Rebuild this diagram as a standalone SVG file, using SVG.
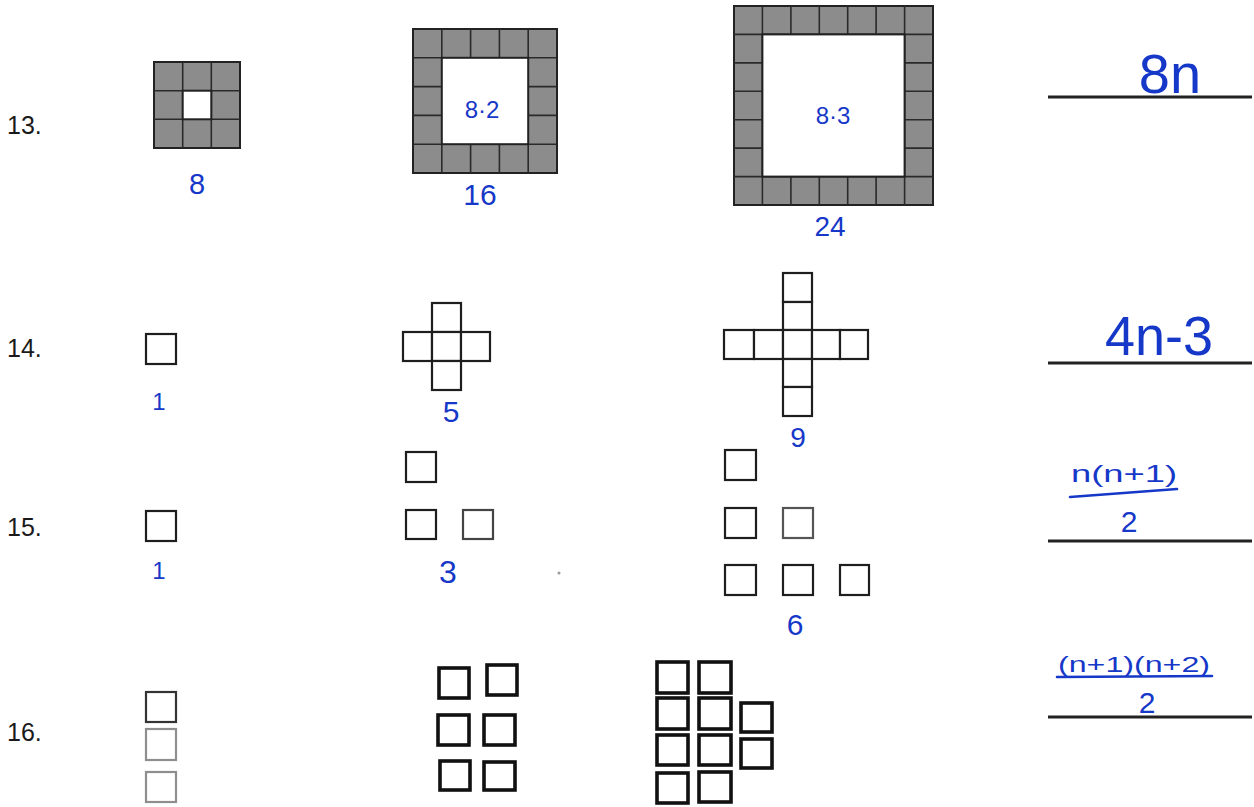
<svg xmlns="http://www.w3.org/2000/svg" width="1254" height="807" viewBox="0 0 1254 807">
<style>
.num{font-family:"Liberation Sans",Arial,sans-serif;font-size:25px;fill:#1a1a1a}
.hw{font-family:"Liberation Sans",Arial,sans-serif;fill:#1638c8;text-anchor:middle}
.ring{fill:#8c8c8c;stroke:#222;stroke-width:2}
.grid{fill:none;stroke:#2a2a2a;stroke-width:1.6}
.hole{fill:#fff;stroke:#222;stroke-width:2}
.sq{fill:#fff;stroke:#1e1e1e;stroke-width:2.2}
.sqb{fill:#fff;stroke:#111;stroke-width:3.6}
.ans{stroke:#222;stroke-width:3;fill:none}
.bar{stroke:#1638c8;stroke-width:2.6;fill:none;stroke-linecap:round}
</style>
<rect width="1254" height="807" fill="#fff"/>

<g id="labels">
<text class="num" x="7" y="134">13.</text>
<text class="num" x="7" y="357">14.</text>
<text class="num" x="7" y="536">15.</text>
<text class="num" x="7" y="741">16.</text>
</g>

<g id="p13-fig1">
<rect class="ring" x="154" y="62" width="86" height="86"/>
<path class="grid" d="M182.7 62V148M211.3 62V148M154 90.7H240M154 119.3H240"/>
<rect class="hole" x="182.7" y="90.7" width="28.6" height="28.6"/>
<text class="hw" x="197" y="194" font-size="29">8</text>
</g>

<g id="p13-fig2">
<rect class="ring" x="413" y="29" width="144" height="144"/>
<path class="grid" d="M441.8 29V173M470.6 29V173M499.4 29V173M528.2 29V173M413 57.8H557M413 86.6H557M413 115.4H557M413 144.2H557"/>
<rect class="hole" x="441.8" y="57.8" width="86.4" height="86.4"/>
<text class="hw" x="482" y="118" font-size="24">8·2</text>
<text class="hw" x="480" y="205" font-size="30">16</text>
</g>

<g id="p13-fig3">
<rect class="ring" x="734" y="6" width="199" height="199"/>
<path class="grid" d="M762.4 6V205M790.9 6V205M819.3 6V205M847.7 6V205M876.1 6V205M904.6 6V205M734 34.4H933M734 62.9H933M734 91.3H933M734 119.7H933M734 148.1H933M734 176.6H933"/>
<rect class="hole" x="762.4" y="34.4" width="142.2" height="142.2"/>
<text class="hw" x="833" y="124" font-size="24">8·3</text>
<text class="hw" x="830" y="236" font-size="28">24</text>
</g>

<g id="p14-fig1">
<rect class="sq" x="146" y="334" width="30" height="30"/>
<text class="hw" x="159" y="410" font-size="24">1</text>
</g>

<g id="p14-fig2">
<rect class="sq" x="432" y="303" width="29" height="29"/>
<rect class="sq" x="403" y="332" width="29" height="29"/>
<rect class="sq" x="432" y="332" width="29" height="29"/>
<rect class="sq" x="461" y="332" width="29" height="29"/>
<rect class="sq" x="432" y="361" width="29" height="29"/>
<text class="hw" x="451" y="422" font-size="30">5</text>
</g>

<g id="p14-fig3">
<rect class="sq" x="783" y="273" width="29" height="29"/>
<rect class="sq" x="783" y="302" width="29" height="28"/>
<rect class="sq" x="724" y="330" width="30" height="29"/>
<rect class="sq" x="754" y="330" width="29" height="29"/>
<rect class="sq" x="783" y="330" width="29" height="29"/>
<rect class="sq" x="812" y="330" width="28" height="29"/>
<rect class="sq" x="840" y="330" width="28" height="29"/>
<rect class="sq" x="783" y="359" width="29" height="28"/>
<rect class="sq" x="783" y="387" width="29" height="29"/>
<text class="hw" x="798" y="447" font-size="28">9</text>
</g>

<g id="p15-fig1">
<rect class="sq" x="146" y="511" width="30" height="30"/>
<text class="hw" x="159" y="579" font-size="24">1</text>
</g>

<g id="p15-fig2">
<rect class="sq" x="406" y="452" width="30" height="30"/>
<rect class="sq" x="406" y="510" width="30" height="29"/>
<rect class="sq" x="463" y="510" width="30" height="29" style="stroke:#444"/>
<text class="hw" x="448" y="583" font-size="32">3</text>
<circle cx="559" cy="573" r="1.5" fill="#999"/>
</g>

<g id="p15-fig3">
<rect class="sq" x="725" y="450" width="31" height="30"/>
<rect class="sq" x="725" y="508" width="31" height="30"/>
<rect class="sq" x="783" y="508" width="30" height="30" style="stroke:#555"/>
<rect class="sq" x="725" y="565" width="31" height="30"/>
<rect class="sq" x="783" y="565" width="30" height="30"/>
<rect class="sq" x="840" y="565" width="29" height="30"/>
<text class="hw" x="795" y="635" font-size="30">6</text>
</g>

<g id="p16-fig1">
<rect class="sq" x="146" y="692" width="30" height="30" style="stroke:#333"/>
<rect class="sq" x="146" y="729" width="30" height="31" style="stroke:#8e8e8e"/>
<rect class="sq" x="146" y="772" width="30" height="30" style="stroke:#8e8e8e"/>
</g>

<g id="p16-fig2">
<rect class="sqb" x="439" y="668" width="30" height="30"/>
<rect class="sqb" x="487" y="665" width="30" height="30"/>
<rect class="sqb" x="438" y="715" width="31" height="30"/>
<rect class="sqb" x="484" y="715" width="31" height="30"/>
<rect class="sqb" x="440" y="761" width="30" height="29"/>
<rect class="sqb" x="484" y="762" width="31" height="28"/>
</g>

<g id="p16-fig3">
<rect class="sqb" x="657" y="662" width="31" height="31"/>
<rect class="sqb" x="699" y="662" width="32" height="31"/>
<rect class="sqb" x="657" y="698" width="31" height="31"/>
<rect class="sqb" x="699" y="698" width="32" height="31"/>
<rect class="sqb" x="741" y="703" width="31" height="29"/>
<rect class="sqb" x="657" y="735" width="31" height="30"/>
<rect class="sqb" x="699" y="735" width="32" height="30"/>
<rect class="sqb" x="741" y="739" width="31" height="29"/>
<rect class="sqb" x="657" y="773" width="31" height="30"/>
<rect class="sqb" x="699" y="772" width="32" height="30"/>
</g>

<g id="answers">
<line class="ans" x1="1048" y1="97" x2="1252" y2="97"/>
<text class="hw" x="1170" y="93" font-size="56">8n</text>
<line class="ans" x1="1048" y1="363" x2="1252" y2="363"/>
<text class="hw" x="1159" y="355" font-size="56" textLength="108" lengthAdjust="spacingAndGlyphs">4n-3</text>
<line class="ans" x1="1048" y1="541" x2="1252" y2="541"/>
<text class="hw" x="1124" y="482" font-size="24" textLength="106" lengthAdjust="spacingAndGlyphs">n(n+1)</text>
<line class="bar" x1="1070" y1="497" x2="1177" y2="489"/>
<text class="hw" x="1129" y="532" font-size="30">2</text>
<line class="ans" x1="1048" y1="717" x2="1252" y2="717"/>
<text class="hw" x="1134" y="672" font-size="22" textLength="152" lengthAdjust="spacingAndGlyphs">(n+1)(n+2)</text>
<line class="bar" x1="1057" y1="677" x2="1212" y2="676"/>
<text class="hw" x="1147" y="713" font-size="30">2</text>
</g>
</svg>
